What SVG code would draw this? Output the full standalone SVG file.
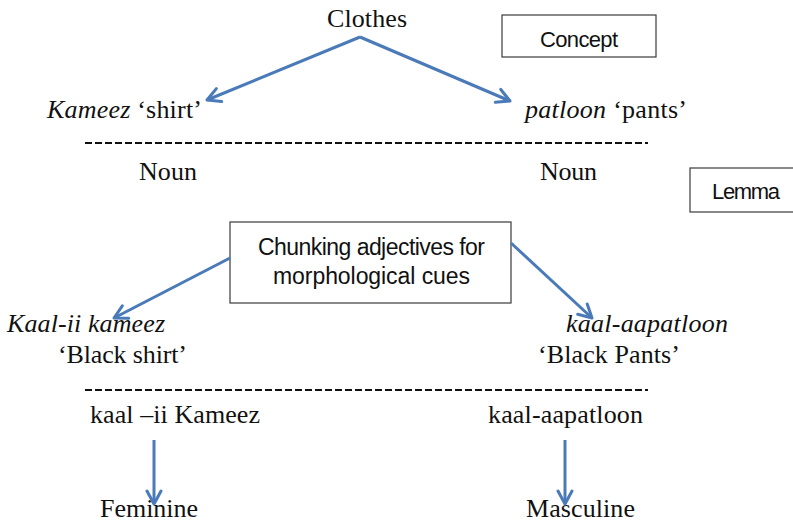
<svg xmlns="http://www.w3.org/2000/svg" width="793" height="522" viewBox="0 0 793 522">
<defs>
<style>
.t{font-family:"Liberation Serif","Times New Roman",serif;font-size:26px;fill:#111}
.i{font-style:italic}
.s{font-family:"Liberation Sans",Arial,sans-serif;font-size:22px;fill:#111}
.c{font-size:23px}
.box{fill:#fff;stroke:#3a3a3a;stroke-width:1.2}
.ar{fill:none;stroke:#4a7ab8;stroke-width:3;marker-end:url(#ah)}
.dash{stroke:#111;stroke-width:2.2;stroke-dasharray:7 3}
</style>
<marker id="ah" viewBox="-16 -9 18 18" markerWidth="18" markerHeight="18" refX="0" refY="0" orient="auto" markerUnits="userSpaceOnUse">
<path d="M-13,-7 L0,0 L-13,7" fill="none" stroke="#4a7ab8" stroke-width="3" stroke-linecap="round" stroke-linejoin="round"/>
</marker>
</defs>
<rect width="793" height="522" fill="#fff"/>

<g id="clothes"><text class="t" x="327" y="27" textLength="80">Clothes</text></g>
<g id="concept"><rect class="box" x="502" y="15" width="154" height="42"/><text class="s" x="540" y="47" textLength="78">Concept</text></g>
<g id="kameez"><text class="t" x="47" y="118" textLength="155"><tspan class="i">Kameez</tspan> ‘shirt’</text></g>
<g id="patloon"><text class="t" x="525" y="118" textLength="162"><tspan class="i">patloon</tspan> ‘pants’</text></g>
<g id="noun1"><text class="t" x="139" y="180" textLength="58">Noun</text></g>
<g id="noun2"><text class="t" x="540" y="180" textLength="57">Noun</text></g>
<g id="lemma"><rect class="box" x="690" y="168" width="110" height="44"/><text class="s" x="712" y="199" textLength="68">Lemma</text></g>
<g id="chunking"><rect class="box" x="230" y="222" width="281" height="81"/>
<text class="s c" x="258" y="255" textLength="227">Chunking adjectives for</text>
<text class="s c" x="273" y="284" textLength="197">morphological cues</text></g>
<g id="kaalii"><text class="t i" x="7" y="332" textLength="158">Kaal-ii kameez</text>
<text class="t" x="58" y="363" textLength="129">‘Black shirt’</text></g>
<g id="kaalaa"><text class="t i" x="566" y="332" textLength="162">kaal-aapatloon</text>
<text class="t" x="538" y="363" textLength="142">‘Black Pants’</text></g>
<g id="kaalii2"><text class="t" x="90" y="423" textLength="170">kaal –ii Kameez</text></g>
<g id="kaalaa2"><text class="t" x="488" y="423" textLength="155">kaal-aapatloon</text></g>
<g id="feminine"><text class="t" x="100" y="517" textLength="98">Feminine</text></g>
<g id="masculine"><text class="t" x="526" y="517" textLength="109">Masculine</text></g>

<g id="separators">
<line class="dash" x1="85" y1="143" x2="648" y2="143"/>
<line class="dash" x1="85" y1="390" x2="648" y2="390"/>
</g>

<g id="connectors">
<polyline class="ar" points="360,37 207,100"/>
<polyline class="ar" points="360,37 510,101"/>
<polyline class="ar" points="230,258 114,318"/>
<polyline class="ar" points="511,243 592,318"/>
<polyline class="ar" points="154,440 154,504"/>
<polyline class="ar" points="565,440 565,504"/>
</g>
</svg>
